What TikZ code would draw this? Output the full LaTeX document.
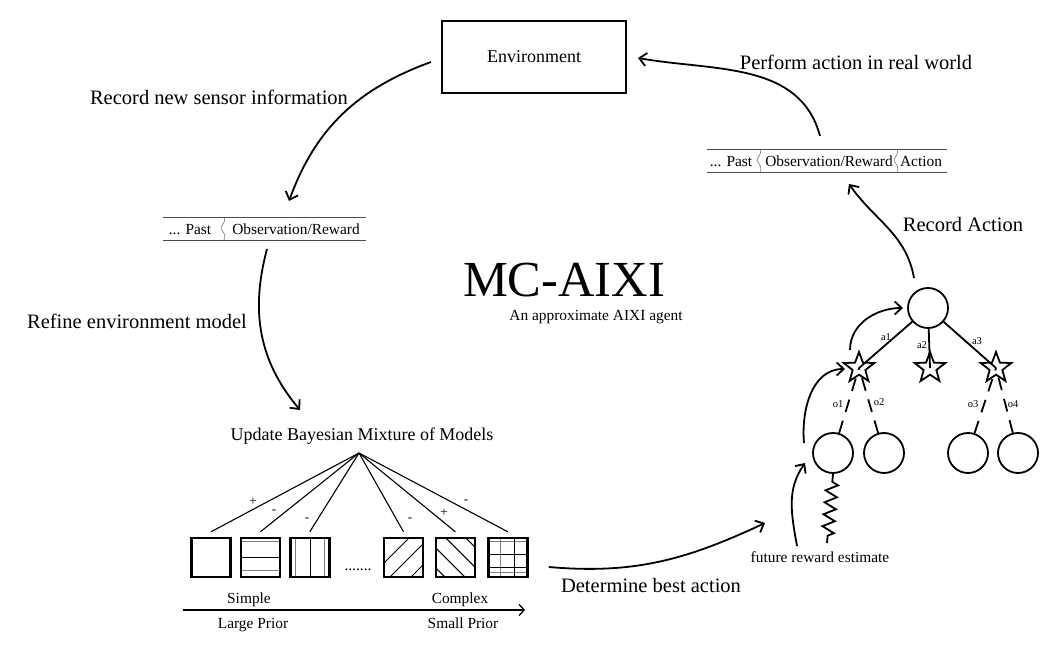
\documentclass[tikz,border=0pt]{standalone}
\usepackage{fontspec}
\setmainfont{Liberation Serif}
\usetikzlibrary{arrows.meta,positioning,calc,shapes.geometric,decorations.pathmorphing}

\begin{document}
\begin{tikzpicture}[x=1pt,y=1pt,every node/.style={align=center,inner sep=0pt},
  big/.style={font=\fontsize{20.5}{24}\selectfont},
  mid/.style={font=\fontsize{15.4}{18}\selectfont},
  tiny/.style={font=\fontsize{10.5}{12}\selectfont},
  sgn/.style={font=\fontsize{13}{15}\selectfont},
  arr/.style={-{Straight Barb[length=7pt,width=13pt]},line width=1.8pt},
  model/.style={draw,line width=2.4pt,minimum size=39pt},
  tnode/.style={draw,circle,line width=1.8pt,minimum size=40pt},
  snode/.style={draw,star,star points=5,star point ratio=2.4,minimum size=32pt,line width=1.8pt},
  hpat/.style={path picture={\begin{scope}[shift={(path picture bounding box.center)}]
    \draw[gray,line width=1pt] (-25,16)--(25,16) (-25,-13)--(25,-13); \draw[line width=1pt] (-25,0)--(25,0);\end{scope}}},
  vpat/.style={path picture={\begin{scope}[shift={(path picture bounding box.center)}]
    \draw[gray,line width=1pt] (-14,-25)--(-14,25) (15,-25)--(15,25); \draw[line width=1pt] (1,-25)--(1,25);\end{scope}}},
  fpat/.style={path picture={\begin{scope}[shift={(path picture bounding box.center)}]
    \foreach \c in {14,-6,-27} \draw[line width=1pt] (-25,-25+\c)--(25,25+\c);\end{scope}}},
  bpat/.style={path picture={\begin{scope}[shift={(path picture bounding box.center)}]
    \foreach \c in {30,10,-10,-30} \draw[line width=1pt] (-25,25+\c)--(25,-25+\c);\end{scope}}},
  gpat/.style={path picture={\begin{scope}[shift={(path picture bounding box.center)}]
    \draw[gray,line width=1pt] (-7,-25)--(-7,25) (-25,16)--(25,16) (-25,-15)--(25,-15);
    \draw[line width=1pt] (7,-25)--(7,25) (-25,3)--(25,3) (-25,-10)--(25,-10);\end{scope}}}]
\useasboundingbox (0,0) rectangle (1052,659);

% environment and the two sequences
\node[draw,line width=2pt,minimum width=184pt,minimum height=72pt,font=\fontsize{18}{21}\selectfont] (env) at (534,602) {Environment};
\node[big] (perform) at (856,597) {Perform action in real world};
\node[big] (sense) at (219,562) {Record new sensor information};
\node[minimum width=203pt,minimum height=23pt] (pastL) at (264.5,430.5) {};
\node[mid,anchor=base] (pastL1) at (190,424.5) {... Past};
\node[mid,anchor=base] (pastL2) at (296,424.5) {Observation/Reward};
\node[minimum width=240pt,minimum height=23pt] (pastR) at (827,498.5) {};
\node[mid,anchor=base] (pastR1) at (731,492.5) {... Past};
\node[mid,anchor=base] (pastR2) at (829,492.5) {Observation/Reward};
\node[mid,anchor=base] (pastR3) at (921,492.5) {Action};
\draw[gray!60!black] (pastL.north west)--(pastL.north east) (pastL.south west)--(pastL.south east)
  (pastR.north west)--(pastR.north east) (pastR.south west)--(pastR.south east);
\foreach \x/\y in {224/442,760/510,897/510}
  \draw[gray!60!black] (\x,\y) .. controls (\x+3,\y-5) and (\x-4,\y-9) .. (\x-3,\y-11.5) .. controls (\x-2,\y-14) and (\x+3,\y-18) .. (\x,\y-23);

\node[big] (refine) at (137,338) {Refine environment model};
\node[font=\fontsize{50.5}{56}\selectfont] (title) at (564,379) {MC-AIXI};
\node[mid] (sub) at (596,342) {An approximate AIXI agent};

% mixture of models
\node[font=\fontsize{18}{21}\selectfont] (upd) at (362,223) {Update Bayesian Mixture of Models};
\coordinate (fan) at (359,206);
\node[model] (m1) at (211,101.5) {};
\node[model,hpat,right=8pt of m1] (m2) {};
\node[model,vpat,right=8pt of m2] (m3) {};
\node[model,fpat] (m4) at (403.5,101.5) {};
\node[model,bpat,right=10.5pt of m4] (m5) {};
\node[model,gpat,right=11pt of m5] (m6) {};
\node[mid] (dots) at (358,89) {.......};
\foreach \m in {m1,m2,m3,m4,m5,m6} \draw[line width=1.1pt] (fan) -- ([yshift=5pt]\m.north);
\foreach \i/\x/\y/\s in {1/253/157/+,2/274/147/-,3/307/139/-,4/410/139/-,5/444/146/+,6/466/157/-}
  \node[sgn] (sg\i) at (\x,\y) {\s};
\coordinate (axL) at (183,49);
\coordinate (axR) at (525,49);
\draw[line width=1.3pt,-{Straight Barb[length=5pt,width=11pt]}] (axL) -- (axR);
\node[mid,anchor=base] (simple) at (249,56) {Simple};
\node[mid,anchor=base] (complex) at (460,56) {Complex};
\node[mid,anchor=base] (large) at (253,31) {Large Prior};
\node[mid,anchor=base] (small) at (463,31) {Small Prior};
\node[big] (best) at (651,74) {Determine best action};

% search tree
\node[tnode] (root) at (928,351) {};
\node[snode] (st1) at (859,291) {};
\node[snode] (st2) at (930,291) {};
\node[snode] (st3) at (996,291) {};
\foreach \n/\x in {c1/833,c2/884,c3/968,c4/1018} \node[tnode] (\n) at (\x,206) {};
\draw[line width=1.8pt] (root) -- (st1.center) (root) -- (st2.center) (root) -- (st3.center);
\draw[line width=1.8pt,dash pattern=on 13pt off 9pt] (c1) -- (st1.center) (c2) -- (st1.center) (c3) -- (st3.center) (c4) -- (st3.center);
\foreach \n/\x/\y/\t in {a1/886/322/a1,a2/922/314/a2,a3/977/318/a3,o1/838/255/o1,o2/879/257/o2,o3/973/255/o3,o4/1013/255/o4}
  \node[tiny] (l\n) at (\x,\y) {\t};
\node[mid] (fut) at (820,102) {future reward estimate};
\node[big] (recact) at (963,435) {Record Action};
\draw[line width=1.8pt,decorate,decoration={zigzag,segment length=12pt,amplitude=6pt,pre length=8pt,post length=5pt}] (c1.south) -- ([xshift=7pt,yshift=14pt]fut.center);

% the loop
\draw[arr] ([xshift=-103pt,yshift=-5pt]env.center) to[out=200,in=70] ([xshift=24.5pt,yshift=27.5pt]pastL.center);
\draw[arr] ([xshift=2.5pt,yshift=-20.5pt]pastL.center) to[out=255,in=130] ([xshift=-62pt,yshift=26pt]upd.center);
\draw[arr] ([xshift=41pt,yshift=-9.5pt]m6.center) to[out=-5,in=205] ([xshift=-55pt,yshift=34pt]fut.center);
\draw[arr] ([xshift=-23pt,yshift=11pt]fut.center) to[out=100,in=235] ([xshift=-28pt,yshift=-10pt]c1.center);
\draw[arr] ([xshift=-29pt,yshift=10pt]c1.center) to[out=95,in=180] ([xshift=-14pt,yshift=-1pt]st1.center);
\draw[arr] ([xshift=-9pt,yshift=18pt]st1.center) to[out=90,in=180] ([xshift=-25pt]root.center);
\draw[arr] ([xshift=-14pt,yshift=30pt]root.center) to[out=100,in=-55] ([xshift=22pt,yshift=-23.5pt]pastR.center);
\draw[arr] ([xshift=-7pt,yshift=24.5pt]pastR.center) to[out=105,in=-10] ([xshift=104pt,yshift=-1pt]env.center);
\end{tikzpicture}
\end{document}
